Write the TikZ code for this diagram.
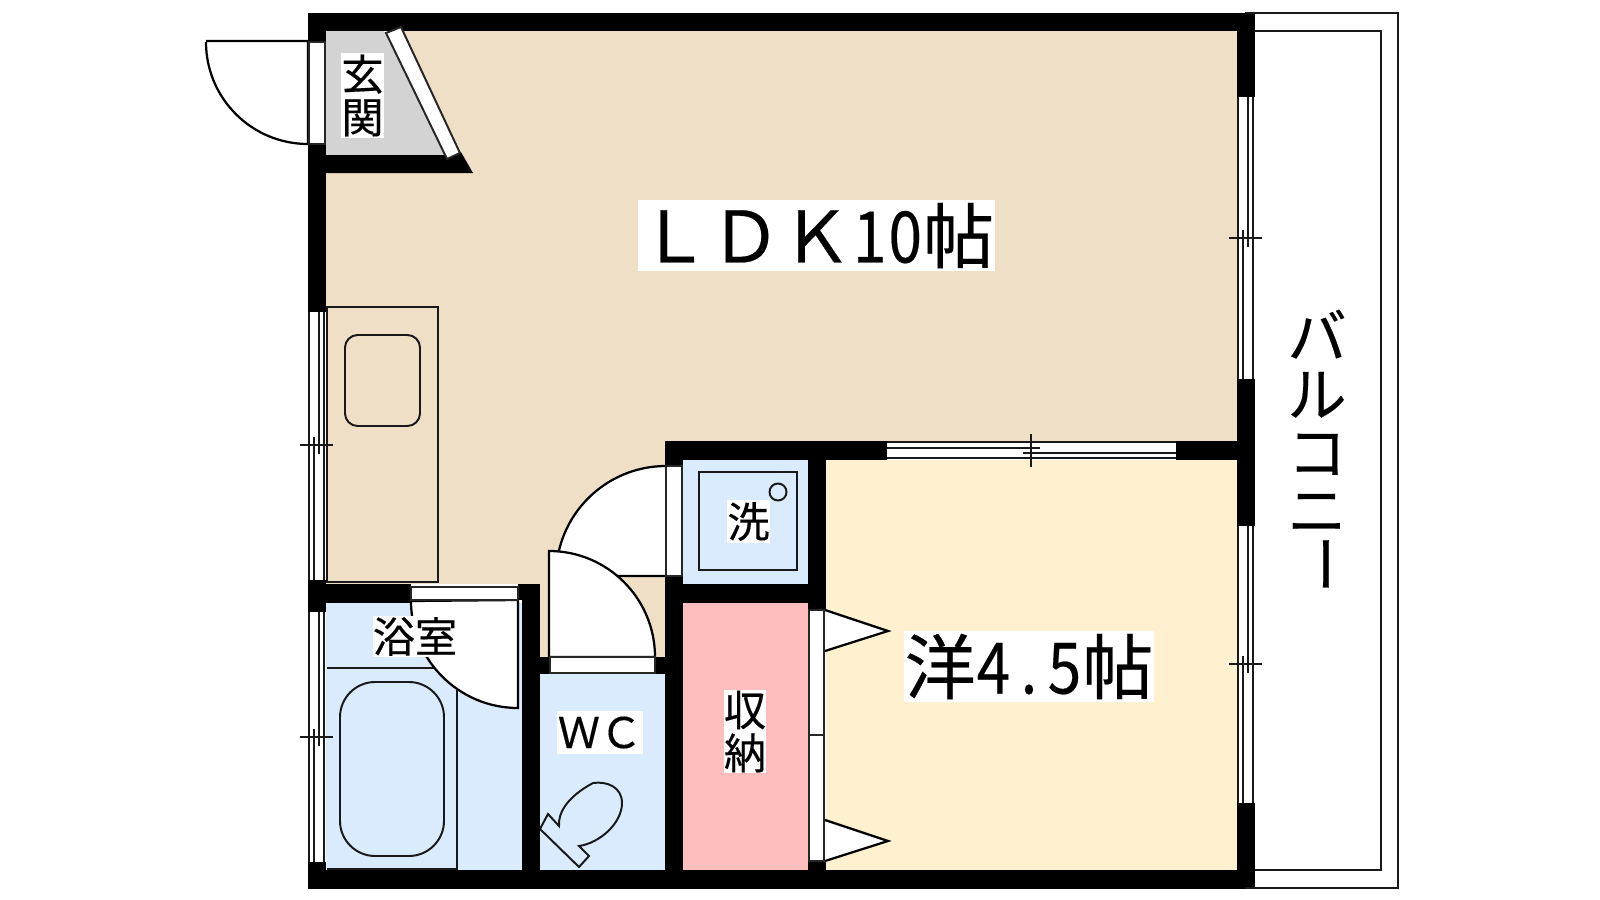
\documentclass[tikz,border=0pt]{standalone}
\usepackage{fontspec}
\setmainfont{Noto Sans CJK JP}[FakeBold=0.35]
\usepackage{tikz}
\definecolor{ldkbeige}{HTML}{EFDFC6}
\definecolor{roomcream}{HTML}{FFF0D0}
\definecolor{wetblue}{HTML}{DAEBFE}
\definecolor{closetpink}{HTML}{FFBEBE}
\definecolor{hallgray}{HTML}{D3D3D3}
\newcommand{\hw}[1]{\makebox[0.5em]{\scalebox{0.85}[1]{#1}}}
\newcommand{\smalljp}{\fontsize{30}{30.6}\selectfont}
\newcommand{\bigjp}{\fontsize{50.5}{52}\selectfont}
\newcommand{\balcjp}{\fontsize{42}{41.3}\selectfont}

\begin{document}
\begin{tikzpicture}[x=0.025cm,y=-0.025cm]
  \useasboundingbox (0,0) rectangle (1600,900);
  \tikzstyle{wall} = [fill=black];
  \tikzstyle{fixture} = [draw=black!90,line width=1.4pt];
  \tikzstyle{swing} = [draw=black,fill=white,line width=1.6pt];
  \tikzstyle{frame} = [draw=black!85,fill=white,line width=1.4pt];
  \tikzstyle{roomlabel} = [fill=white,inner sep=0pt,align=center];

  \fill[ldkbeige] (395,31) -- (1237,31) -- (1237,441) -- (665,441) -- (665,657) -- (540,657) -- (540,584) -- (326,584) -- (326,173) -- (473,173) -- cycle;
  \fill[hallgray] (326,31) -- (384,31) -- (444,155) -- (326,155) -- cycle;
  \fill[roomcream] (826,460) rectangle (1237,870);
  \fill[wetblue] (326,603) rectangle (522,870);
  \fill[wetblue] (540,674) rectangle (665,870);
  \fill[wetblue] (683,460) rectangle (808,584);
  \fill[closetpink] (683,603) rectangle (808,870);

  \draw[fixture] (327,307) rectangle (438,582);
  \draw[fixture,rounded corners=9] (345,335) rectangle (420,426);
  \draw[fixture] (699,472) rectangle (797,570);
  \draw[fixture] (778,492) circle (8.5);
  \draw[fixture] (327,668) -- (440,668);
  \draw[fixture] (457,690) -- (457,869) -- (327,869);
  \draw[fixture,rounded corners=25] (340,682) rectangle (444,856);
  \draw[fixture] (559,826) .. controls (558,813) and (567,797) .. (593,783)
    .. controls (607,781) and (622,787) .. (622,803)
    .. controls (622,823) and (600,843) .. (579,846)
    -- (589,856) -- (579,867) -- (540,829) -- (548,814) -- cycle;

  \draw[swing] (206,41) -- (308,41) -- (308,144) arc[start angle=90,end angle=180,radius=102];
  \draw[swing] (666,466) arc[start angle=-90,end angle=-180,radius=110] -- (666,576);
  \draw[swing] (549,657) -- (549,551) arc[start angle=-90,end angle=0,radius=106] -- cycle;
  \draw[swing] (518,600) -- (518,708) arc[start angle=90,end angle=180,radius=107] -- cycle;
  \draw[swing] (825,610) -- (888,631) -- (825,651);
  \draw[swing] (825,820) -- (888,841) -- (825,861);

  \fill[wall] (308,13) rectangle (1255,31);
  \fill[wall] (308,13) rectangle (326,312);
  \fill[wall] (326,155) -- (447,155) -- (461,152) -- (473,173) -- (326,173) -- cycle;
  \fill[wall] (308,580) rectangle (326,612);
  \fill[wall] (326,584) rectangle (411,603);
  \fill[wall] (308,862) rectangle (326,889);
  \fill[wall] (308,870) rectangle (1255,889);
  \fill[wall] (518,584) rectangle (540,600);
  \fill[wall] (522,600) rectangle (540,870);
  \fill[wall] (540,657) rectangle (550,674);
  \fill[wall] (655,657) rectangle (665,674);
  \fill[wall] (665,441) rectangle (683,870);
  \fill[wall] (665,441) rectangle (887,460);
  \fill[wall] (1176,441) rectangle (1237,460);
  \fill[wall] (683,584) rectangle (826,603);
  \fill[wall] (808,441) rectangle (826,610);
  \fill[wall] (808,861) rectangle (826,870);
  \fill[wall] (1237,13) rectangle (1255,97);
  \fill[wall] (1237,379) rectangle (1255,526);
  \fill[wall] (1237,803) rectangle (1255,889);

  \draw[frame] (309,42) rectangle (325,144);
  \draw[frame] (386,33) -- (401,27) -- (460,153) -- (447,159) -- cycle;
  \draw[frame] (411,587) rectangle (518,600);
  \draw[frame] (550,657) rectangle (655,673);
  \draw[frame] (666,466) rectangle (682,576);
  \draw[frame] (809,610) rectangle (824,735);
  \draw[frame] (809,735) rectangle (824,861);

  \foreach \wx/\wa/\wb/\wt in {308/312/580/445,308/612/862/737,1237/97/379/238,1237/526/803/664}{
    \fill[white] (\wx,\wa) rectangle (\wx+18,\wb);
    \draw[fixture] (\wx+1,\wa) -- (\wx+1,\wb);
    \draw[fixture] (\wx+16,\wa) -- (\wx+16,\wb);
    \draw[fixture] (\wx+6,\wt-8) -- (\wx+6,\wb);
    \draw[fixture] (\wx+11,\wa) -- (\wx+11,\wt+9);
    \draw[fixture] (\wx-8,\wt) -- (\wx+25,\wt);
  }
  \fill[white] (887,441) rectangle (1176,460);
  \draw[fixture] (887,442) -- (1176,442);
  \draw[fixture] (887,458) -- (1176,458);
  \draw[fixture] (887,448) -- (1040,448);
  \draw[fixture] (1023,453) -- (1176,453);
  \draw[fixture] (1031,434) -- (1031,467);

  \draw[fixture] (1245,13) -- (1398,13) -- (1398,888) -- (1245,888);
  \draw[fixture] (1255,31) -- (1381,31) -- (1381,870) -- (1255,870);

  \node[roomlabel,minimum width=43*0.025cm,minimum height=85*0.025cm,font=\smalljp] (genkanLabel) at (362.5,95.5) {玄\\関};
  \node[roomlabel,minimum width=357*0.025cm,minimum height=71*0.025cm,font=\bigjp] (ldkLabel) at (816.5,235.5) {ＬＤＫ\hw{1}\hw{0}帖};
  \node[roomlabel,minimum width=250*0.025cm,minimum height=71*0.025cm,font=\bigjp] (yoLabel) at (1029,666.5) {洋\hw{4}\hw{.}\hw{5}帖};
  \node[roomlabel,minimum width=43*0.025cm,minimum height=43*0.025cm,font=\smalljp] (washLabel) at (748.5,521.5) {洗};
  \node[roomlabel,minimum width=82*0.025cm,minimum height=41*0.025cm,font=\smalljp] (bathLabel) at (415,636.5) {浴室};
  \node[roomlabel,minimum width=86*0.025cm,minimum height=43*0.025cm,font=\smalljp] (wcLabel) at (600,732.5) {ＷＣ};
  \node[roomlabel,minimum width=42*0.025cm,minimum height=83*0.025cm,font=\smalljp] (closetLabel) at (745,731.5) {収\\納};
  \node[roomlabel,fill=none,font=\balcjp] (balconyLabel) at (1317,421) {バ\\ル\\コ\\ニ};
  \node[roomlabel,fill=none,font=\balcjp,rotate=-90] (balconyBar) at (1316,564) {ー};
\end{tikzpicture}
\end{document}
